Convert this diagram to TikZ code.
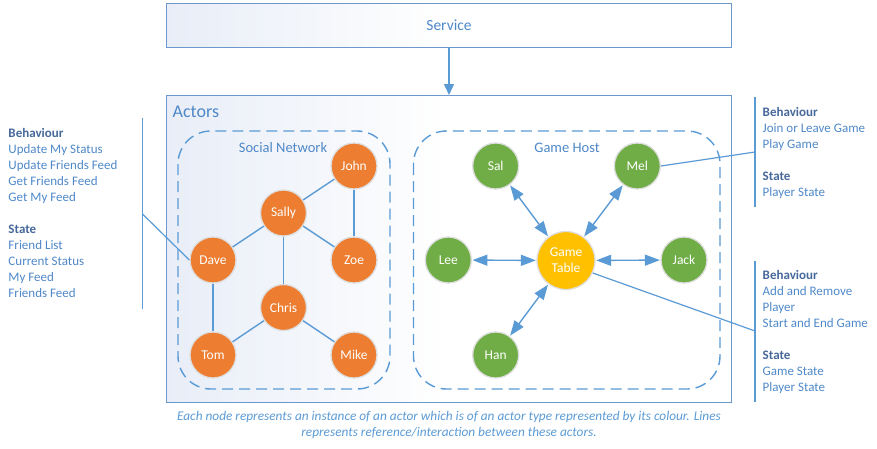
\documentclass[tikz,border=0pt]{standalone}
\usepackage{fontspec}
\setmainfont{Carlito}
\usetikzlibrary{arrows.meta,shapes.geometric}
\definecolor{linecol}{HTML}{5B9BD5}
\definecolor{boxcol}{HTML}{6C98CE}
\definecolor{textcol}{HTML}{4F88C8}
\definecolor{headcol}{HTML}{46689A}
\definecolor{orangecol}{HTML}{ED7D31}
\definecolor{greencol}{HTML}{70AD47}
\definecolor{yellowcol}{HTML}{FFC000}
\definecolor{shadecol}{HTML}{E8EDF7}
\tikzset{
  actor/.style={circle, minimum size=46pt, inner sep=0pt, text=white,
    font=\fontsize{13.5}{15}\selectfont, draw=black!13, line width=1.3pt},
  sn/.style={actor, fill=orangecol},
  gh/.style={actor, fill=greencol},
  tbl/.style={actor, fill=yellowcol, minimum size=58pt, align=center,
    font=\fontsize{13.5}{16}\selectfont},
  link/.style={draw=linecol, line width=1.4pt},
  biarrow/.style={link, {Triangle[length=15pt,width=11pt]}-{Triangle[length=15pt,width=11pt]}, shorten <=0.5pt, shorten >=0.5pt},
  group/.style={draw=linecol, line width=1.4pt, dash pattern=on 11pt off 6pt, rounded corners=33pt},
  bigbox/.style={draw=boxcol, line width=1pt,
    left color=shadecol, right color=white, middle color=white},
  txt/.style={anchor=base west, inner sep=0pt, text=textcol, font=\fontsize{13}{16}\selectfont},
  head/.style={txt, text=headcol, font=\fontsize{13}{16}\selectfont\bfseries},
  captxt/.style={anchor=base, inner sep=0pt, text=linecol, font=\fontsize{13.3}{16}\selectfont\itshape},
}
\begin{document}
\begin{tikzpicture}[x=1pt,y=-1pt]
\useasboundingbox (0,0) rectangle (877,448);
% boxes
\path[bigbox] (166,3) rectangle (731,47);
\node[text=textcol, font=\fontsize{15.5}{18}\selectfont] (service) at (449,25) {Service};
\path[bigbox] (166,95) rectangle (731,402);
\coordinate (servicebot) at (449,47);
\coordinate (actorstop) at (449,95);
\draw[link, -{Triangle[length=11pt,width=10pt]}] (servicebot) -- (actorstop);
\node[anchor=base west, inner sep=0pt, text=textcol, font=\fontsize{18}{20}\selectfont] (actors) at (172.5,117.5) {Actors};
% groups
\draw[group] (178,131) rectangle (390,389);
\draw[group] (413.5,131) rectangle (720,389);
\node[anchor=base, inner sep=0pt, text=textcol, font=\fontsize{14.5}{17}\selectfont] (snlabel) at (283,152) {Social Network};
\node[anchor=base, inner sep=0pt, text=textcol, font=\fontsize{14.5}{17}\selectfont] (ghlabel) at (567,152) {Game Host};
% social network nodes
\node[sn] (john) at (354,166) {John};
\node[sn] (sally) at (283.5,213) {Sally};
\node[sn] (dave) at (213,260) {Dave};
\node[sn] (zoe) at (354,260) {Zoe};
\node[sn] (chris) at (283.5,307.5) {Chris};
\node[sn] (tom) at (213,355) {Tom};
\node[sn] (mike) at (354,355) {Mike};
\draw[link] (john) -- (sally);
\draw[link] (john) -- (zoe);
\draw[link] (sally) -- (dave);
\draw[link] (sally) -- (zoe);
\draw[link] (sally) -- (chris);
\draw[link] (dave) -- (tom);
\draw[link] (chris) -- (tom);
\draw[link] (chris) -- (mike);
% game host nodes
\node[gh] (sal) at (495.7,166) {Sal};
\node[gh] (mel) at (637.3,166) {Mel};
\node[gh] (lee) at (448.3,260) {Lee};
\node[gh] (jack) at (684,260) {Jack};
\node[gh] (han) at (495.7,355) {Han};
\node[tbl] (table) at (566,260.5) {Game\\Table};
\draw[biarrow] (sal) -- (table);
\draw[biarrow] (mel) -- (table);
\draw[biarrow] (lee) -- (table);
\draw[biarrow] (jack) -- (table);
\draw[biarrow] (han) -- (table);
% left callout
\coordinate (lt) at (142.5,118);
\coordinate (lb) at (142.5,308.5);
\coordinate (lm) at (142.5,214);
\draw[link, line width=1.2pt] (lt) -- (lb);
\draw[link, line width=1.2pt] (lm) -- (dave.west);
\node[head] (l1) at (8.3,137) {Behaviour};
\node[txt] (l2) at (8.3,153) {Update My Status};
\node[txt] (l3) at (8.3,169) {Update Friends Feed};
\node[txt] (l4) at (8.3,185) {Get Friends Feed};
\node[txt] (l5) at (8.3,201) {Get My Feed};
\node[head] (l6) at (8.3,233) {State};
\node[txt] (l7) at (8.3,249) {Friend List};
\node[txt] (l8) at (8.3,265) {Current Status};
\node[txt] (l9) at (8.3,281) {My Feed};
\node[txt] (l10) at (8.3,297) {Friends Feed};
% right upper callout
\coordinate (rt) at (755,97);
\coordinate (rb) at (755,207);
\coordinate (rm) at (755,152);
\draw[link, line width=1.2pt] (rt) -- (rb);
\draw[link, line width=1.2pt] (mel.east) -- (rm);
\node[head] (r1) at (762.5,116) {Behaviour};
\node[txt] (r2) at (762.5,132) {Join or Leave Game};
\node[txt] (r3) at (762.5,148) {Play Game};
\node[head] (r4) at (762.5,180) {State};
\node[txt] (r5) at (762.5,196) {Player State};
% right lower callout
\coordinate (st) at (755,261);
\coordinate (sb) at (755,402);
\coordinate (sm) at (755,331);
\draw[link, line width=1.2pt] (st) -- (sb);
\draw[link, line width=1.2pt] (table.-25) -- (sm);
\node[head] (s1) at (762.5,279) {Behaviour};
\node[txt] (s2) at (762.5,295) {Add and Remove};
\node[txt] (s3) at (762.5,311) {Player};
\node[txt] (s4) at (762.5,327) {Start and End Game};
\node[head] (s5) at (762.5,359) {State};
\node[txt] (s6) at (762.5,375) {Game State};
\node[txt] (s7) at (762.5,391) {Player State};
% caption
\node[captxt] (cap1) at (449,420) {Each node represents an instance of an actor which is of an actor type represented by its colour. Lines};
\node[captxt] (cap2) at (449,436) {represents reference/interaction between these actors.};
\end{tikzpicture}
\end{document}
